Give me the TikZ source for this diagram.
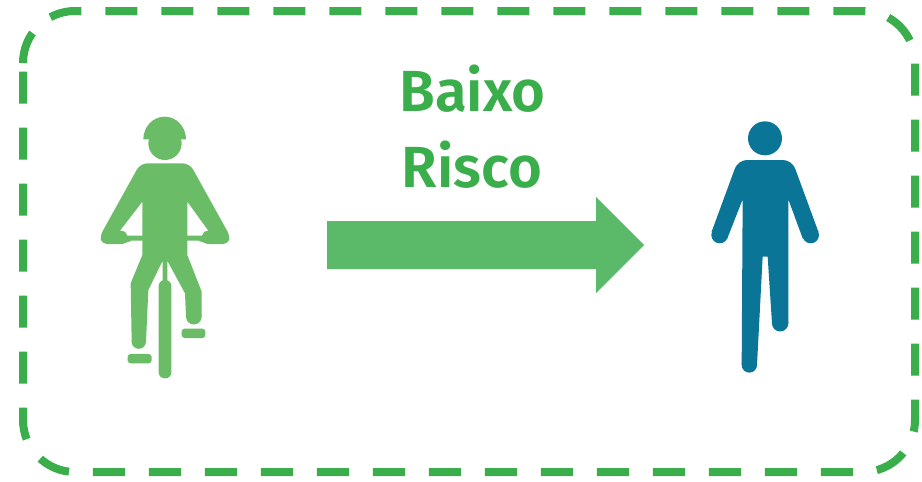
\documentclass[tikz,border=0pt]{standalone}
\usepackage{fontspec}
\setmainfont{Fira Sans SemiBold}
\definecolor{boxgreen}{HTML}{3BAE4C}
\definecolor{arrowgreen}{HTML}{5BBA69}
\definecolor{bikegreen}{HTML}{6ABD66}
\definecolor{walkblue}{HTML}{0B7598}
\tikzset{
  dashbox/.style={draw=boxgreen,line width=8pt,dash pattern=on 32pt off 24pt,rounded corners=52pt},
  label/.style={text=boxgreen,font=\fontsize{58}{58}\selectfont,inner sep=0pt,anchor=base},
  bigarrow/.style={fill=arrowgreen},
  rider/.style={fill=bikegreen},
  walker/.style={fill=walkblue}
}
\begin{document}
\begin{tikzpicture}[x=1pt,y=-1pt]
\useasboundingbox (0,0) rectangle (922,482);
\fill[white] (0,0) rectangle (922,482);
% dashed frame
\draw[dashbox] (23,63) -- (23,11) -- (915,11) -- (915,472) -- (23,472) -- (23,63);
% text
\node[label] (t1) at (472.5,111) {Baixo};
\node[label] (t2) at (472,187) {Risco};
% arrow
\fill[bigarrow] (327,221) -- (596,221) -- (596,197) -- (644,245) -- (596,293) -- (596,269) -- (327,269) -- cycle;
% cyclist
\begin{scope}[shift={(80,100)},scale=1/3]
\fill[rider] (190,118) arc[start angle=180,end angle=360,x radius=64,y radius=68] -- cycle;
\fill[rider] (255,130) circle[radius=50];
\fill[rider,rounded corners=7pt]
  (255,190) -- (329,190) [rounded corners=5pt] -- (450,408) -- (445,432) -- (372,432) [rounded corners=2pt] -- (362,422) [sharp corners] -- (322,422) -- (322,465) -- (365,575) -- (365,650) -- (318,650) -- (315,580) -- (262,482) -- (262,545) -- (248,545) -- (248,482) -- (205,570) -- (198,725) -- (155,725) -- (152,550) -- (187,465) -- (187,422) [rounded corners=2pt] -- (148,422) [rounded corners=5pt] -- (138,432) -- (65,432) -- (60,408) [rounded corners=7pt] -- (181,190) [sharp corners] -- (255,190) -- cycle
  (187,305) -- (120,392) -- (135,395) -- (142,407) -- (187,407) -- cycle
  (322,305) -- (322,407) -- (366,407) -- (373,395) -- (385,392) -- cycle;
\fill[rider] (341.5,650) circle[radius=23.5];
\fill[rider] (176.5,725) circle[radius=21.5];
\fill[rider,rounded corners=6pt] (236,540) rectangle (274,835);
\fill[rider,rounded corners=3pt] (143,762) rectangle (215,790);
\fill[rider,rounded corners=3pt] (305,686) rectangle (376,714);
\end{scope}
% pedestrian
\begin{scope}[shift={(690,110)},scale=1/3]
\fill[walker] (225,85) circle[radius=51];
\fill[walker,rounded corners=9pt]
  (225,150) -- (306,150) [sharp corners] -- (385,365) -- (338,385) -- (295,268) -- (295,640) -- (246,640) -- (233,440) -- (218,440) -- (201,765) -- (155,765) -- (158,268) -- (112,385) -- (65,365) [rounded corners=9pt] -- (144,150) [sharp corners] -- (225,150) -- cycle;
\fill[walker] (362,375) circle[radius=25];
\fill[walker] (89,375) circle[radius=25];
\fill[walker] (270.5,640) circle[radius=24.5];
\fill[walker] (178,765) circle[radius=23];
\end{scope}
\end{tikzpicture}
\end{document}
